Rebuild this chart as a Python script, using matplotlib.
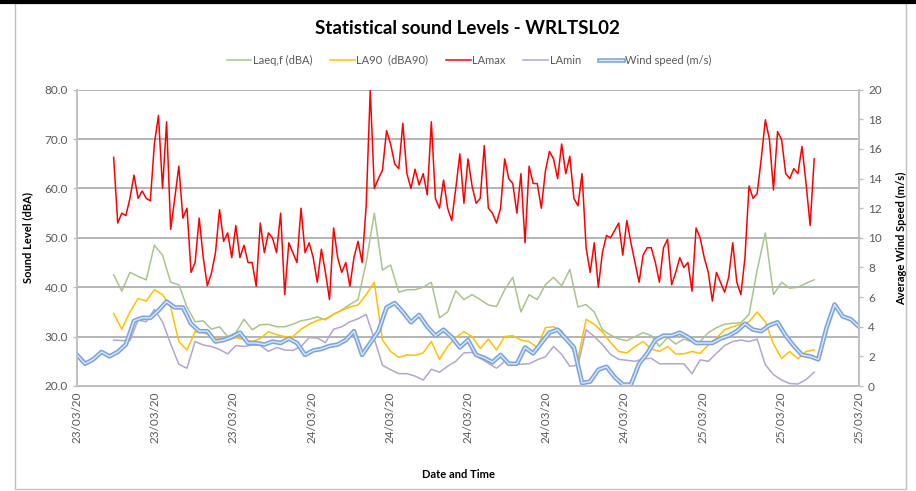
import matplotlib
matplotlib.use('Agg')
import matplotlib.pyplot as plt
import matplotlib.patheffects as pe
from matplotlib.patches import Rectangle
from matplotlib.lines import Line2D
import pandas as pd

plt.rcParams['font.family'] = ['Lato', 'DejaVu Sans']

# LAmax, 15 min samples
lamax = [66.3, 53, 55, 54.5, 58, 62.7, 58, 59.5, 58, 57.5,
         69, 74.8, 60, 73.5, 51.7, 58, 64.5, 54, 56, 43,
         45, 54, 46, 40.3, 42.8, 47, 55.7, 49.3, 51, 46,
         52.5, 46, 48.5, 45, 45, 40.2, 53, 47, 51, 50,
         47, 55, 38.5, 49, 47, 45, 56, 47, 49, 46,
         41, 47.7, 43, 37.5, 52, 46, 43, 45, 40.2, 46,
         49.3, 45, 56.5, 80, 60, 62, 63.7, 71.7, 69, 65,
         64, 73.2, 63, 60, 63.9, 60.7, 63, 58.7, 73.5, 58,
         56, 61.7, 56, 53.5, 60, 67, 57, 66, 60.5, 57,
         58, 68.7, 56, 55, 53, 56, 66, 62, 61, 55,
         63, 49, 64.5, 61, 61, 56, 63.5, 67.5, 66, 62,
         69, 63, 66.5, 58, 56.5, 63, 48, 43, 49, 40,
         47, 50.5, 50, 51.5, 53, 46.5, 53.5, 49, 45, 41,
         46.5, 48, 48, 45, 41, 48, 49.7, 40.5, 43, 46,
         44, 45, 39.2, 52, 50, 46, 43, 37.2, 43, 41,
         39, 42, 49, 41, 38.5, 46, 60.5, 58, 59, 66,
         73.9, 70, 59.7, 71.5, 69.9, 63, 62, 64, 63, 68.5,
         61, 52.5, 66]

# other sound levels, 30 min samples
laeq = [42.5, 39.2, 43, 42.2, 41.5, 48.5, 46.5, 41, 40.5, 36,
        33, 33.2, 31.5, 32, 30, 30.8, 33.5, 31.4, 32.4, 32.5,
        32, 32, 32.5, 33.2, 33.5, 34, 33.4, 34.5, 35.4, 36.5,
        37.5, 45, 55, 43.5, 44.5, 39, 39.5, 39.5, 40, 41,
        33.8, 35, 39.3, 37.5, 38.5, 37.5, 36.4, 36.1, 39.5, 42,
        35, 38.5, 37.5, 40.5, 42, 40.3, 43.6, 36, 36.5, 35,
        31.4, 30.3, 29.5, 29.2, 30, 30.8, 30.2, 28, 29.8, 28.5,
        29.5, 29, 29, 30.8, 31.8, 32.5, 32.7, 32.8, 34.5, 43.5,
        51, 38.5, 41, 39.8, 40, 40.8, 41.5]

la90 = [34.7, 31.5, 35, 37.7, 37.2, 39.5, 38.5, 36, 29, 27.3,
        31, 30.8, 30.2, 29.5, 29.3, 29.8, 29.4, 29, 29.6, 31,
        30.4, 30, 30, 31.5, 32.5, 33.3, 33.6, 34.5, 35.3, 36,
        36.4, 38.5, 41, 29.3, 27, 25.8, 26.3, 26.2, 26.7, 29,
        25.4, 28, 29.8, 31, 30, 27.6, 29.5, 27.3, 30, 30.2,
        29.3, 29, 27.8, 31.8, 32, 31.2, 28.3, 25.5, 33.5, 32.5,
        31, 28.8, 27, 26.7, 28, 29, 27.5, 27, 28, 26.5,
        26.5, 27, 26.6, 28.3, 29.7, 31.4, 32, 32.5, 33, 35,
        33, 28.5, 25.6, 27, 25.5, 27, 27.3]

lamin = [29.3, 29.2, 29.2, 33.4, 33, 35.5, 33, 28.5, 24.4, 23.6,
         29, 28.3, 28, 27.4, 26.5, 28.2, 28, 28.3, 28.2, 27,
         27.8, 27.3, 27.2, 28, 29.8, 29.7, 28.8, 31.5, 32, 33,
         33.6, 34.5, 29.5, 24.2, 23.3, 22.5, 22.5, 22, 21.2, 23.4,
         22.8, 24, 25, 26.7, 26.8, 25.6, 24.6, 23.6, 25, 24.6,
         24.4, 24.5, 25.3, 25.9, 28, 26.4, 24, 24.2, 31.4, 30,
         28.4, 26.4, 25.4, 25.2, 25, 25.5, 25.6, 24.5, 24.5, 24.5,
         24.5, 22.5, 25.3, 25, 26.6, 28.2, 29, 29.3, 29, 29.5,
         24.3, 22.3, 21.2, 20.5, 20.4, 21.3, 22.8]

# wind speed (m/s), 30 min samples
wind = [2.1, 1.5, 1.8, 2.3, 2, 2.3, 2.8, 4.4, 4.6, 4.6,
        5.1, 5.7, 5.3, 5.3, 4.2, 3.7, 3.7, 3, 3.1, 3.3,
        3.6, 2.9, 2.9, 2.8, 3, 2.9, 3.2, 2.9, 2.1, 2.4,
        2.5, 2.7, 2.8, 3.1, 3.7, 2.1, 2.9, 3.7, 5.3, 5.6,
        5, 4.3, 4.8, 4, 3.4, 3.8, 3.3, 2.6, 3.1, 2.1,
        1.9, 1.6, 2.1, 1.5, 1.5, 2.6, 2.2, 2.9, 3.6, 3.8,
        3.2, 2.6, 0.2, 0.3, 1.1, 1.3, 0.6, 0.1, 0.1, 1.5,
        2.2, 3.1, 3.4, 3.4, 3.6, 3.3, 2.9, 2.9, 2.9, 3.2,
        3.4, 3.7, 4.2, 3.8, 3.7, 4.1, 4.3, 3.4, 2.7, 2.1,
        2, 1.8, 3.9, 5.5, 4.7, 4.5, 4]

start = pd.Timestamp('2020-03-23 12:00')
first = start + pd.Timedelta(minutes=135)
t_max = pd.date_range(first, periods=len(lamax), freq='15min').to_pydatetime()
t_snd = pd.date_range(first, periods=len(laeq), freq='30min').to_pydatetime()
t_wind = pd.date_range(start, periods=len(wind), freq='30min').to_pydatetime()
ticks = [(start + pd.Timedelta(hours=4.8 * m)).to_pydatetime() for m in range(11)]
tick_labels = [d.strftime('%d/%m/%y') for d in ticks]

fig = plt.figure(figsize=(9.16, 4.91), dpi=100)
fig.patches.append(Rectangle((15 / 916, 2 / 491), 891 / 916, 486 / 491, transform=fig.transFigure,
                             fill=False, edgecolor='#bfbfbf', lw=1))
fig.add_artist(Line2D([0, 1], [489.5 / 491, 489.5 / 491], transform=fig.transFigure, color='black', lw=3))

ax = fig.add_axes([77 / 916, 1 - 386 / 491, 782 / 916, (386 - 89.7) / 491])
ax2 = ax.twinx()

grey = '#595959'
ax.plot(t_snd, laeq, color='#a9c48c', lw=1.1, label='Laeq,f (dBA)')
ax.plot(t_snd, la90, color='#ffc000', lw=1.1, label='LA90  (dBA90)')
ax.plot(t_max, lamax, color='#ff0000', lw=1.1, label='LAmax')
ax.plot(t_snd, lamin, color='#b4a5cc', lw=1.1, label='LAmin')
ax2.plot(t_wind, wind, color='#dce8f8', lw=1.0, label='Wind speed (m/s)',
         path_effects=[pe.Stroke(linewidth=3.3, foreground='#7aa5df'), pe.Normal()])

ax.set_xlim(ticks[0], ticks[-1])
ax.set_ylim(20, 80)
ax.set_yticks(range(20, 81, 10))
ax.set_yticklabels([f'{v:.1f}' for v in range(20, 81, 10)])
ax2.set_ylim(0, 20)
ax2.set_yticks(range(0, 21, 2))
ax.set_xticks(ticks)
ax.set_xticklabels(tick_labels, rotation=90)

ax.yaxis.grid(True, color='#a0a0a0', lw=1.1)
ax.set_axisbelow(True)
for a in (ax, ax2):
    a.spines['top'].set_visible(False)
    for s in ('left', 'right', 'bottom'):
        a.spines[s].set_color('#bfbfbf')
        a.spines[s].set_linewidth(1.2)
    a.tick_params(colors=grey, labelsize=8.5, length=3, width=1)
    a.tick_params(axis='both', labelcolor=grey)
ax.tick_params(axis='x', length=0, pad=4)
ax.tick_params(axis='y', color='#bfbfbf')
ax2.tick_params(axis='y', color='#bfbfbf')

ax.set_ylabel('Sound Level (dBA)', fontsize=8, fontweight='bold', labelpad=8)
ax2.set_ylabel('Average Wind Speed (m/s)', fontsize=8, fontweight='bold', labelpad=10)
fig.text(0.5, 1 - 474 / 491, 'Date and Time', ha='center', va='center', fontsize=8, fontweight='bold')
fig.text(0.510, 1 - 28 / 491, 'Statistical sound Levels - WRLTSL02', ha='center', va='center',
         fontsize=13.5, fontweight='bold')

h1, l1 = ax.get_legend_handles_labels()
h2, l2 = ax2.get_legend_handles_labels()
fig.legend(h1 + h2, l1 + l2, loc='center', bbox_to_anchor=(0.512, 1 - 60 / 491), ncol=5,
           frameon=False, fontsize=8, handlelength=2.2, columnspacing=1.6, handletextpad=0.15,
           labelcolor=grey)

fig.savefig('out.png', dpi=100)
